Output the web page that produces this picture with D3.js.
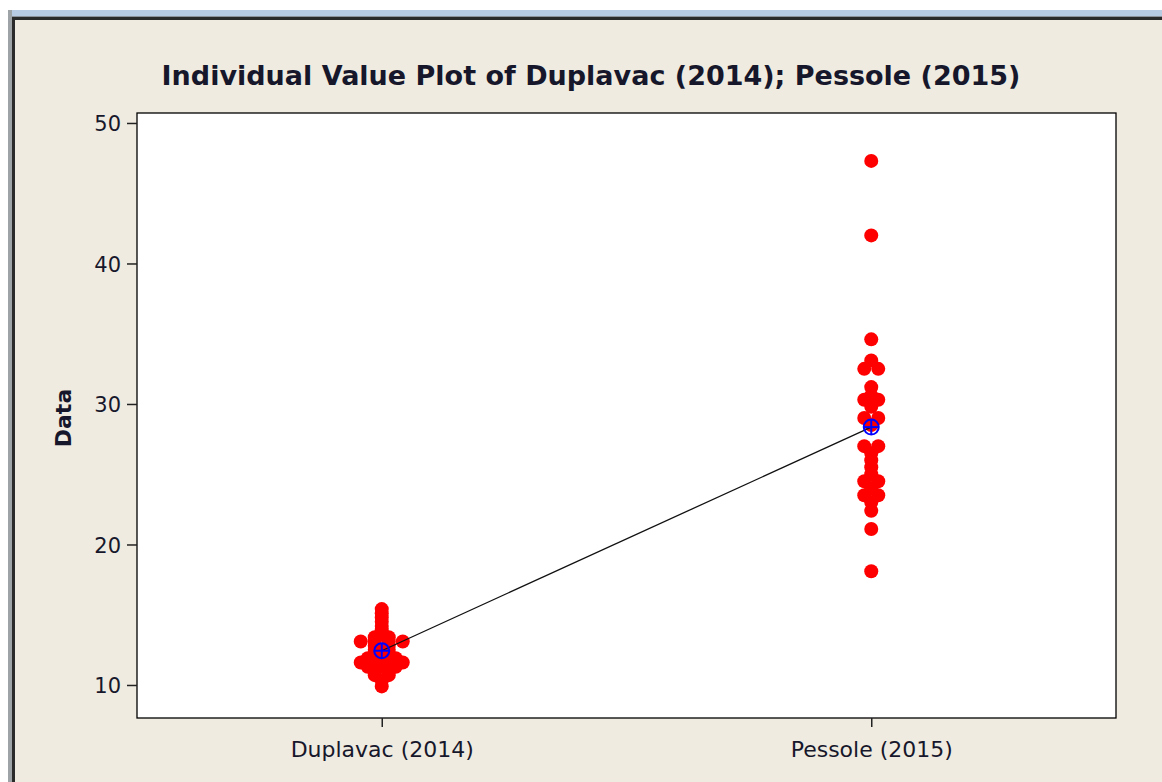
<!DOCTYPE html>
<html>
<head>
<meta charset="utf-8">
<script src="https://cdnjs.cloudflare.com/ajax/libs/d3/7.8.5/d3.min.js"></script>
<style>
  html, body { margin: 0; padding: 0; background: #fff; }
  svg { display: block; }
  text { font-family: "DejaVu Sans", Verdana, sans-serif; fill: #17172b; }
</style>
</head>
<body>
<svg id="chart" width="1162" height="782"></svg>
<script>
const categories = ["Duplavac (2014)", "Pessole (2015)"];

const duplavac = [15.4, 15.1, 14.8, 14.5, 14.2, 13.9, 13.6, 13.4, 13.4,
    13.1, 13.1, 13.1, 13.1, 12.8, 12.8, 12.5, 12.5, 12.2, 12.2,
    11.9, 11.9, 11.9, 11.6, 11.6, 11.6, 11.6, 11.3, 11.3, 11.3,
    11.0, 11.0, 10.7, 10.7, 10.3, 9.9];

const pessole = [47.3, 42.0, 34.6, 33.1, 32.5, 32.5, 31.2, 30.6, 30.3, 30.3,
    29.8, 29.0, 29.0, 28.5, 27.0, 27.0, 26.5, 26.0, 25.5, 25.0,
    24.5, 24.5, 24.0, 23.5, 23.5, 23.0, 22.4, 21.1, 18.1];

const yTicks = [10, 20, 30, 40, 50];
const chartTitle = "Individual Value Plot of Duplavac (2014); Pessole (2015)";
const yLabel = "Data";

const series = [duplavac, pessole];

const svg = d3.select("#chart");
const W = 1162, H = 782;
const plot = { left: 137, top: 113, right: 1116, bottom: 718 };
const dotR = 7, dodgeStep = 14;

// window chrome
svg.append("rect").attr("width", W).attr("height", H).attr("fill", "#fff");
svg.append("rect").attr("x", 8).attr("y", 10).attr("width", W).attr("height", 6).attr("fill", "#b7cbe3");
svg.append("rect").attr("x", 8).attr("y", 16).attr("width", W).attr("height", 2).attr("fill", "#8d939a");
svg.append("rect").attr("x", 8).attr("y", 10).attr("width", 4).attr("height", H).attr("fill", "#9ea3a8");
svg.append("rect").attr("x", 12).attr("y", 17).attr("width", W).attr("height", H).attr("fill", "#2a2a2a");
svg.append("rect").attr("x", 15).attr("y", 20).attr("width", W).attr("height", H).attr("fill", "#efebe1");

const x = d3.scalePoint().domain(categories).range([plot.left, plot.right]).padding(0.5);
const y = d3.scaleLinear().domain([7.65, 50.71]).range([plot.bottom, plot.top]);

svg.append("rect")
    .attr("x", plot.left).attr("y", plot.top)
    .attr("width", plot.right - plot.left).attr("height", plot.bottom - plot.top)
    .attr("fill", "#fff").attr("stroke", "#000").attr("stroke-width", 1.3);

// axes
const yAxis = svg.append("g")
    .attr("transform", `translate(${plot.left},0)`)
    .call(d3.axisLeft(y).tickValues(yTicks).tickSize(10).tickPadding(6));
yAxis.select(".domain").remove();

const xAxis = svg.append("g")
    .attr("transform", `translate(0,${plot.bottom})`)
    .call(d3.axisBottom(x).tickSize(9).tickPadding(10));
xAxis.select(".domain").remove();

svg.selectAll(".tick line").attr("stroke", "#222").attr("stroke-width", 1.5);
svg.selectAll(".tick text")
    .attr("font-family", "DejaVu Sans, Verdana, sans-serif")
    .attr("font-size", 21).attr("fill", "#17172b");
xAxis.selectAll(".tick text").attr("font-size", 22).attr("dy", "0.9em");
yAxis.selectAll(".tick text").attr("dy", "0.36em");

// individual values, equal values placed side by side
const points = [];
series.forEach((vals, si) => {
    const groups = d3.group(vals, v => v);
    groups.forEach((arr, v) => {
        arr.forEach((_, i) => {
            points.push({ cat: categories[si], value: v, off: (i - (arr.length - 1) / 2) * dodgeStep });
        });
    });
});

svg.append("g").selectAll("circle")
    .data(points)
    .join("circle")
    .attr("cx", d => x(d.cat) + d.off)
    .attr("cy", d => y(d.value))
    .attr("r", dotR)
    .attr("fill", "#ff0000");

const means = series.map((vals, i) => ({ cat: categories[i], value: d3.mean(vals) }));

svg.append("path")
    .datum(means)
    .attr("fill", "none")
    .attr("stroke", "#111")
    .attr("stroke-width", 1.3)
    .attr("d", d3.line().x(d => x(d.cat)).y(d => y(d.value)));

const mg = svg.append("g").selectAll("g")
    .data(means)
    .join("g")
    .attr("transform", d => `translate(${x(d.cat)},${y(d.value)})`)
    .attr("stroke", "#0000ff").attr("stroke-width", 2).attr("fill", "none");
mg.append("circle").attr("r", 7.5);
mg.append("line").attr("x1", -7.5).attr("x2", 7.5);
mg.append("line").attr("y1", -7.5).attr("y2", 7.5);

// titles
const title = svg.append("text")
    .attr("x", 591).attr("y", 85)
    .attr("text-anchor", "middle")
    .attr("font-size", 27).attr("font-weight", "bold")
    .text(chartTitle);
if (title.node().getComputedTextLength() > 867) {
    title.attr("textLength", 867).attr("lengthAdjust", "spacingAndGlyphs");
}

svg.append("text")
    .attr("transform", "translate(71,418) rotate(-90)")
    .attr("text-anchor", "middle")
    .attr("font-size", 22).attr("font-weight", "bold")
    .text(yLabel);
</script>
</body>
</html>
